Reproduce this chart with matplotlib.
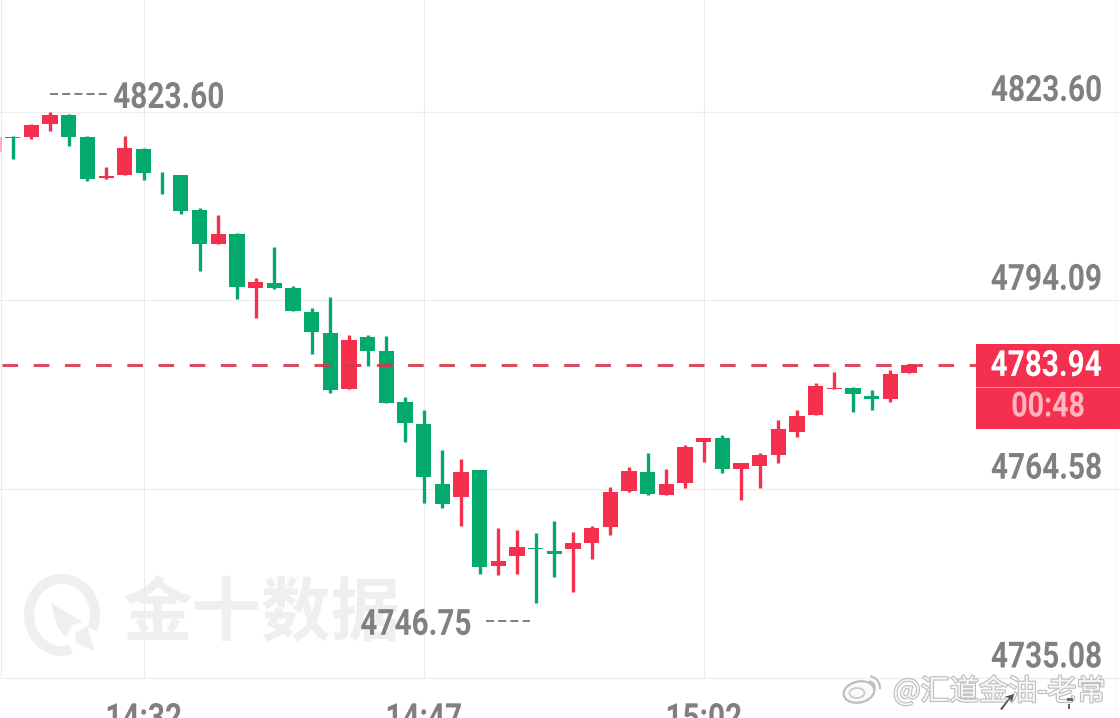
import matplotlib
matplotlib.use("Agg")
import matplotlib.pyplot as plt
import matplotlib.patheffects as pe
from matplotlib.patches import Arc, Ellipse, Polygon, Rectangle
from matplotlib.transforms import Affine2D, ScaledTranslation

# ---- data -------------------------------------------------------------
minutes = list(range(-8, 42))  # minutes after 14:32
opens = [4817.28, 4819.62, 4819.62, 4821.65, 4823.05, 4819.57, 4813.26, 4813.64, 4817.75, 4813.89,
         4813.73, 4808.22, 4802.91, 4804.47, 4796.09, 4796.82, 4796.04, 4792.34, 4789.02, 4780.23,
         4788.44, 4786.10, 4778.20, 4774.76, 4765.40, 4763.37, 4767.63, 4752.59, 4754.15, 4755.45,
         4754.98, 4755.25, 4756.23, 4758.73, 4764.24, 4767.32, 4763.72, 4765.55, 4772.00, 4772.58,
         4767.78, 4768.21, 4769.97, 4773.56, 4776.21, 4780.27, 4780.43, 4779.07, 4778.71, 4782.73]
closes = [4819.62, 4819.46, 4821.54, 4823.10, 4819.67, 4813.06, 4813.48, 4817.90, 4813.95, 4813.80,
          4808.11, 4802.87, 4804.47, 4796.20, 4796.93, 4796.09, 4792.50, 4789.13, 4780.01, 4787.88,
          4786.25, 4778.09, 4774.97, 4766.49, 4762.27, 4767.21, 4752.44, 4753.37, 4755.50, 4755.29,
          4754.40, 4756.12, 4758.53, 4764.15, 4767.47, 4763.88, 4765.44, 4771.17, 4772.58, 4767.78,
          4768.61, 4769.86, 4773.92, 4776.06, 4780.74, 4780.43, 4779.45, 4778.71, 4782.62, 4783.97]
highs = [4819.62, 4819.77, 4821.65, 4823.48, 4823.16, 4819.82, 4814.98, 4819.77, 4817.85, 4814.11,
         4813.73, 4808.53, 4807.44, 4804.63, 4797.56, 4802.44, 4796.40, 4792.87, 4794.59, 4788.75,
         4788.75, 4788.50, 4778.92, 4776.89, 4770.75, 4769.24, 4767.63, 4758.53, 4758.21, 4757.75,
         4759.66, 4757.95, 4758.84, 4764.97, 4767.99, 4770.23, 4767.67, 4771.48, 4772.58, 4773.05,
         4768.61, 4770.17, 4775.39, 4776.95, 4781.21, 4782.93, 4780.59, 4780.07, 4783.19, 4784.13]
lows = [4817.28, 4816.14, 4819.31, 4820.56, 4818.26, 4812.80, 4813.11, 4813.64, 4812.95, 4810.77,
        4807.55, 4798.70, 4802.91, 4794.33, 4791.31, 4795.93, 4792.50, 4785.69, 4779.60, 4780.23,
        4783.91, 4778.09, 4771.89, 4762.48, 4761.65, 4758.78, 4751.39, 4751.19, 4751.39, 4746.82,
        4750.87, 4748.53, 4753.73, 4757.48, 4764.15, 4763.72, 4763.72, 4764.71, 4768.88, 4767.05,
        4762.94, 4764.71, 4768.72, 4772.73, 4776.21, 4780.27, 4776.64, 4776.89, 4778.20, 4782.73]

price_ticks = [4823.60, 4794.09, 4764.58, 4735.08]
price_labels = ["4823.60", "4794.09", "4764.58", "4735.08"]
time_ticks = [0, 15, 30]
time_labels = ["14:32", "14:47", "15:02"]
last_price = 4783.94
last_label = "4783.94"
countdown = "00:48"
high_label = "4823.60"
low_label = "4746.75"
high_mark = 4823.60
low_mark = 4746.75
watermark = "金十数据"
weibo = "@汇道金油-老常"

# ---- style ------------------------------------------------------------
W, H = 1120, 718
RED, GREEN = "#f5304f", "#04a96c"
GRID, TXT, PALE = "#ececec", "#808080", "#efefef"
NUM = ["Roboto", "DejaVu Sans"]
CJK = ["Noto Sans CJK SC", "DejaVu Sans"]
SX = 0.825
plt.rcParams["lines.scale_dashes"] = False
px = 72 / 100


class Narrow(pe.AbstractPathEffect):
    """Draw real text squeezed horizontally, to imitate the condensed face."""

    def __init__(self, sx=SX, anchor=0.0):
        super().__init__()
        self.sx, self.anchor = sx, anchor

    def draw_path(self, renderer, gc, tpath, affine, rgbFace=None):
        e = tpath.get_extents(affine)
        x0 = e.x0 + self.anchor * e.width
        squeeze = Affine2D().translate(-x0, 0).scale(self.sx, 1).translate(x0, 0)
        renderer.draw_path(gc, tpath, affine + squeeze, rgbFace)


fig = plt.figure(figsize=(W / 100, H / 100), dpi=100, facecolor="white")
ax = fig.add_axes([0, (H - 678) / H, 1, 678 / H], zorder=1)
ax.patch.set_alpha(0)
scale = 188.83 / 29.507
x_per_px = 1 / 18.67
ax.set_xlim(-143.5 * x_per_px, (W - 143.5) * x_per_px)
ax.set_ylim(4735.08, 4823.60 + 111.5 / scale)

ax.set_yticks(price_ticks, price_labels)
ax.set_xticks(time_ticks, time_labels)
ax.grid(True, color=GRID, lw=1.1 * px, zorder=0)
ax.set_axisbelow(True)
for name, sp in ax.spines.items():
    sp.set_visible(name in ("bottom", "left"))
    sp.set_color(GRID)
    sp.set_linewidth(1.1 * px)
ax.spines["left"].set_position(("axes", 0.001))
ax.yaxis.tick_right()
ax.tick_params(axis="both", length=0)
ax.tick_params(axis="y", pad=-17.5 * px, labelsize=26, labelcolor=TXT)
ax.tick_params(axis="x", pad=23 * px, labelsize=26, labelcolor=TXT)
shift = ScaledTranslation(0, 10.5 * px / 72, fig.dpi_scale_trans)
for t in ax.yaxis.get_major_ticks():
    t.label2.set_ha("right")
    t.label2.set_va("baseline")
    t.label2.set_family(NUM)
    t.label2.set_weight("bold")
    t.label2.set_transform(t.label2.get_transform() + shift)
    t.label2.set_path_effects([Narrow(SX, 1.0)])
for lab in ax.get_xticklabels():
    lab.set_family(NUM)
    lab.set_weight("bold")
    lab.set_path_effects([Narrow(SX, 0.5)])

# candles
for m, o, c, h, l in zip(minutes, opens, closes, highs, lows):
    col = RED if c >= o else GREEN
    alpha = 0.35 if m == minutes[0] else 1
    ax.vlines(m, l, h, color=col, lw=2.4, zorder=3, alpha=alpha)
    ax.bar(m, abs(c - o), bottom=min(o, c), width=0.82, color=col, lw=0, zorder=3, alpha=alpha)

# last-price dashed line (stops at the price box)
ax.plot([-141.5 * x_per_px, (976 - 143.5) * x_per_px], [last_price, last_price],
        color="#d8364d", lw=3 * px, alpha=0.9, zorder=4,
        dashes=(15.6 * px, 15.6 * px), dash_capstyle="butt")


def to_x(p):
    return (p - 143.5) * x_per_px


# high / low markers
hi_y = high_mark + 17.5 / scale
lo_y = low_mark - 17.5 / scale
ax.plot([to_x(50), to_x(107)], [hi_y, hi_y], color="#808080", lw=2 * px,
        dashes=(8 * px, 4.2 * px), dash_capstyle="butt", zorder=4)
ax.text(to_x(113), hi_y, high_label, color=TXT, fontsize=26, family=NUM, weight="bold",
        ha="left", va="center_baseline", zorder=5, path_effects=[Narrow(SX, 0.0)])
ax.plot([to_x(486), to_x(530)], [lo_y, lo_y], color="#808080", lw=2 * px,
        dashes=(8 * px, 4.2 * px), dash_capstyle="butt", zorder=4)
ax.text(to_x(472), lo_y, low_label, color=TXT, fontsize=26, family=NUM, weight="bold",
        ha="right", va="center_baseline", zorder=5, path_effects=[Narrow(SX, 1.0)])

# ---- decorations in pixel coordinates -----------------------------------
pix = Affine2D().scale(1, -1).translate(0, H)


def deco(p, z=2):
    p.set_transform(pix)
    p.set_zorder(z)
    fig.add_artist(p)


# faint right border
deco(Rectangle((1115, 0), 1, 718, fc="#f5f5f5", ec="none"), -1)

# price box
deco(Rectangle((976, 344), 144, 85, fc=RED, ec="none"), 6)
deco(Rectangle((976, 387), 144, 1, fc="#ff8fa3", ec="none"), 7)
fig.text(1102 / W, 1 - 366 / H, last_label, color="white", fontsize=26, family=NUM,
         weight="bold", ha="right", va="center", zorder=8, path_effects=[Narrow(SX, 1.0)])
fig.text(1048 / W, 1 - 407 / H, countdown, color="#ffb4c2", fontsize=25, family=NUM,
         weight="bold", ha="center", va="center", zorder=8, path_effects=[Narrow(SX, 0.5)])

# background watermark
deco(Arc((62, 615), 66, 72, theta1=75, theta2=385, color=PALE, lw=10 * px), -1)
deco(Polygon([(51, 603), (83, 622), (72, 625), (66, 637), (58, 628)], fc=PALE, ec="none"), -1)
deco(Polygon([(75, 634), (87, 626), (95, 651), (76, 643)], fc=PALE, ec="none"), -1)
fig.text(262 / W, 1 - 615 / H, watermark, color="#efefef", fontsize=50, family=CJK,
         weight=900, ha="center", va="center", zorder=-1)

# Weibo credit
fig.text(893 / W, 1 - 692 / H, weibo, color="#f6f6f6", fontsize=21, family=CJK,
         ha="left", va="center", zorder=9,
         path_effects=[pe.withStroke(linewidth=1.6, foreground="#bdbdbd")])
deco(Ellipse((859, 692), 31, 21, angle=-12, fc="#fafafa", ec="#bdbdbd", lw=1.6), 9)
deco(Ellipse((857, 693), 15, 10, fc="none", ec="#c8c8c8", lw=1.2), 9)
deco(Arc((868, 688), 24, 24, theta1=-80, theta2=5, color="#bdbdbd", lw=1.4), 9)
deco(Arc((868, 688), 14, 14, theta1=-80, theta2=5, color="#bdbdbd", lw=1.4), 9)

# remains of a covered label
deco(Polygon([(1000, 709), (1009, 698), (1004, 697), (1014, 694), (1012, 702), (1010, 699),
              (1002, 710)], fc="#555555", ec="none"), 10)
deco(Rectangle((1067, 698), 6, 3, fc="#666666", ec="none"), 10)
deco(Rectangle((1068, 704), 2, 5, fc="#666666", ec="none"), 10)

fig.savefig("out.png", dpi=100)
